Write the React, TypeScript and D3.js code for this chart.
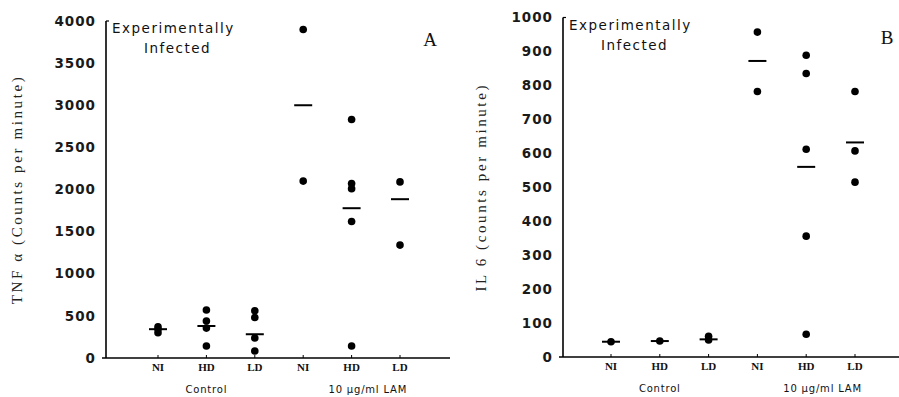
import React from "react";
import * as d3 from "d3";

const categories = ["NI", "HD", "LD", "NI", "HD", "LD"];
const groups = ["Control", "10 \u03bcg/ml LAM"];

// panel A: TNF alpha
const tnfTicks = [0, 500, 1000, 1500, 2000, 2500, 3000, 3500, 4000];
const tnfPoints = [
  [370, 340, 300],
  [570, 440, 355, 142],
  [560, 480, 237, 83],
  [3900, 2100],
  [2830, 2070, 2010, 1620, 142],
  [2090, 1340],
];
const tnfMedians = [342, 380, 282, 3000, 1778, 1885];

// panel B: IL 6
const il6Ticks = [0, 100, 200, 300, 400, 500, 600, 700, 800, 900, 1000];
const il6Points = [
  [45],
  [47],
  [61, 50],
  [957, 782],
  [889, 835, 612, 356, 67],
  [782, 607, 515],
];
const il6Medians = [45, 47, 52, 872, 560, 632];

type PanelProps = {
  axisX: number;
  right: number;
  top: number;
  bottom: number;
  xRange: [number, number];
  max: number;
  ticks: number[];
  points: number[][];
  medians: number[];
  yLabel: string;
  yLabelX: number;
  letter: string;
  letterX: number;
  letterY: number;
};

function Panel(p: PanelProps) {
  const x = d3.scalePoint<number>().domain(d3.range(categories.length)).range(p.xRange);
  const y = d3.scaleLinear().domain([0, p.max]).range([p.bottom, p.top]);
  const groupX = [x(1)!, (x(4)! + x(5)!) / 2 - 8];
  const mid = (p.top + p.bottom) / 2;

  return (
    <g>
      {/* axes */}
      <line x1={p.axisX} x2={p.axisX} y1={p.top} y2={p.bottom} stroke="#000" strokeWidth={1.6} />
      <line x1={p.axisX} x2={p.axisX + 3} y1={p.top} y2={p.top} stroke="#000" strokeWidth={1.2} />
      <line x1={p.axisX - 4} x2={p.right} y1={p.bottom} y2={p.bottom} stroke="#000" strokeWidth={1.6} />
      {p.ticks.map((t) => (
        <text
          key={t}
          x={p.axisX - 10}
          y={y(t)}
          dy="0.35em"
          textAnchor="end"
          fontFamily="DejaVu Sans"
          fontWeight="bold"
          fontSize={13.5}
          letterSpacing={1}
          fill="#1a1a1a"
        >
          {t}
        </text>
      ))}
      {categories.map((c, i) => (
        <g key={i}>
          <line x1={x(i)} x2={x(i)} y1={p.bottom} y2={p.bottom - 3} stroke="#000" strokeWidth={1} />
          <text
            x={x(i)}
            y={p.bottom + 13}
            textAnchor="middle"
            fontFamily="Liberation Serif"
            fontWeight="bold"
            fontSize={11}
            fill="#111"
          >
            {c}
          </text>
        </g>
      ))}
      {groups.map((g, i) => (
        <text
          key={g}
          x={groupX[i]}
          y={p.bottom + 35}
          textAnchor="middle"
          fontFamily="DejaVu Sans"
          fontSize={10}
          letterSpacing={0.8}
          fill="#111"
        >
          {g}
        </text>
      ))}
      {/* data */}
      {p.points.map((vals, i) =>
        vals.map((v, j) => <circle key={`${i}-${j}`} cx={x(i)} cy={y(v)} r={3.8} fill="#000" />)
      )}
      {p.medians.map((m, i) => (
        <line key={i} x1={x(i)! - 9} x2={x(i)! + 9} y1={y(m)} y2={y(m)} stroke="#000" strokeWidth={2} />
      ))}
      {/* labels */}
      <text
        transform={`translate(${p.yLabelX},${mid}) rotate(-90)`}
        textAnchor="middle"
        fontFamily="Liberation Serif"
        fontSize={15}
        letterSpacing={2.6}
        fill="#222"
      >
        {p.yLabel}
      </text>
      <text fontFamily="DejaVu Sans" fontSize={13.5} letterSpacing={1.5} fill="#111">
        <tspan x={p.axisX + 6} y={p.top + 12}>Experimentally</tspan>
        <tspan x={p.axisX + 38} y={p.top + 32}>Infected</tspan>
      </text>
      <text x={p.letterX} y={p.letterY} textAnchor="middle" fontFamily="Liberation Serif" fontSize={19} fill="#111">
        {p.letter}
      </text>
    </g>
  );
}

export default function App() {
  return (
    <svg width={899} height={397} style={{ position: "absolute", left: 0, top: 0, background: "#fff" }}>
      <Panel
        axisX={106}
        right={450}
        top={21}
        bottom={358}
        xRange={[158, 400]}
        max={4000}
        ticks={tnfTicks}
        points={tnfPoints}
        medians={tnfMedians}
        yLabel={"TNF \u03b1 (Counts per minute)"}
        yLabelX={22}
        letter="A"
        letterX={430}
        letterY={46}
      />
      <Panel
        axisX={563}
        right={899}
        top={17.5}
        bottom={357}
        xRange={[611, 855]}
        max={1000}
        ticks={il6Ticks}
        points={il6Points}
        medians={il6Medians}
        yLabel="IL 6 (counts per minute)"
        yLabelX={486}
        letter="B"
        letterX={887}
        letterY={44}
      />
    </svg>
  );
}
